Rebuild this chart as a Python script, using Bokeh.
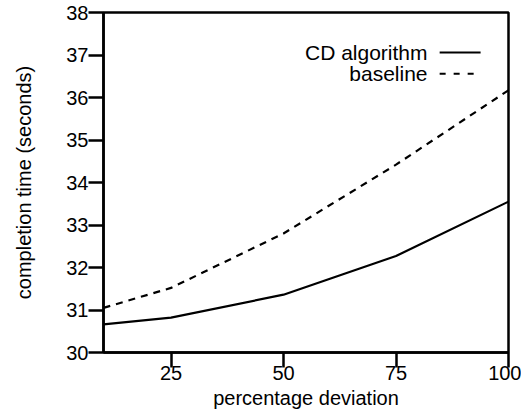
from bokeh.plotting import figure
from bokeh.models import Range1d, FixedTicker, Label, Whisker, ColumnDataSource
from bokeh.embed import file_html
from bokeh.resources import INLINE

# data
deviation = [10, 25, 50, 75, 100]
cd_algorithm = [30.66, 30.82, 31.36, 32.27, 33.55]
baseline = [31.05, 31.52, 32.80, 34.42, 36.17]
x_ticks = [25, 50, 75, 100]
y_ticks = [30, 31, 32, 33, 34, 35, 36, 37, 38]
series_names = ["CD algorithm", "baseline"]

FONT = "Liberation Sans"

p = figure(frame_width=405, frame_height=340,
           x_range=Range1d(10, 100), y_range=Range1d(30, 38),
           output_backend="svg", toolbar_location=None,
           min_border_left=103, min_border_top=12, min_border_right=13,
           min_border_bottom=50)

p.xgrid.visible = False
p.ygrid.visible = False
p.background_fill_color = "white"
p.border_fill_color = "white"
p.outline_line_color = "black"
p.outline_line_width = 2.5
p.outline_line_alpha = 1.0

for ax in (p.xaxis[0], p.yaxis[0]):
    ax.axis_line_color = "black"
    ax.axis_line_width = 2.5
    ax.major_tick_line_color = "black"
    ax.major_tick_line_width = 2.5
    ax.major_tick_in = 0
    ax.major_tick_out = 15
    ax.minor_tick_line_color = None
    ax.major_label_text_font = FONT
    ax.major_label_text_font_size = "20px"
    ax.major_label_text_color = "black"
    ax.axis_label_text_font = FONT
    ax.axis_label_text_font_size = "20px"
    ax.axis_label_text_font_style = "normal"
    ax.axis_label_text_color = "black"

p.xaxis[0].ticker = FixedTicker(ticks=x_ticks)
p.yaxis[0].ticker = FixedTicker(ticks=y_ticks)
p.xaxis[0].axis_label = "percentage deviation"
p.yaxis[0].axis_label = "completion time (seconds)"
p.xaxis[0].major_label_standoff = -2
p.yaxis[0].major_label_standoff = 0
p.xaxis[0].axis_label_standoff = 4
p.yaxis[0].axis_label_standoff = 28

p.line(deviation, cd_algorithm, line_color="black", line_width=2.2)
p.line(deviation, baseline, line_color="black", line_width=2.2, line_dash="7 6")

# legend (text to the left of the line samples)
leg_y = [37.06, 36.56]
leg_text_x = 82
leg_line_x0 = 84.7
leg_line_x1 = 93.8
dashes = ["solid", "6 8"]
for name, yy, dash in zip(series_names, leg_y, dashes):
    p.add_layout(Label(x=leg_text_x, y=yy, text=name, text_align="right",
                       text_baseline="middle", text_font=FONT,
                       text_font_size="21px", text_color="black"))
    src = ColumnDataSource(dict(base=[yy], lower=[leg_line_x0], upper=[leg_line_x1]))
    p.add_layout(Whisker(source=src, base="base", lower="lower", upper="upper",
                         dimension="width", lower_head=None, upper_head=None,
                         line_color="black", line_width=2, line_dash=dash))

open("out.html", "w").write(file_html(p, INLINE))
